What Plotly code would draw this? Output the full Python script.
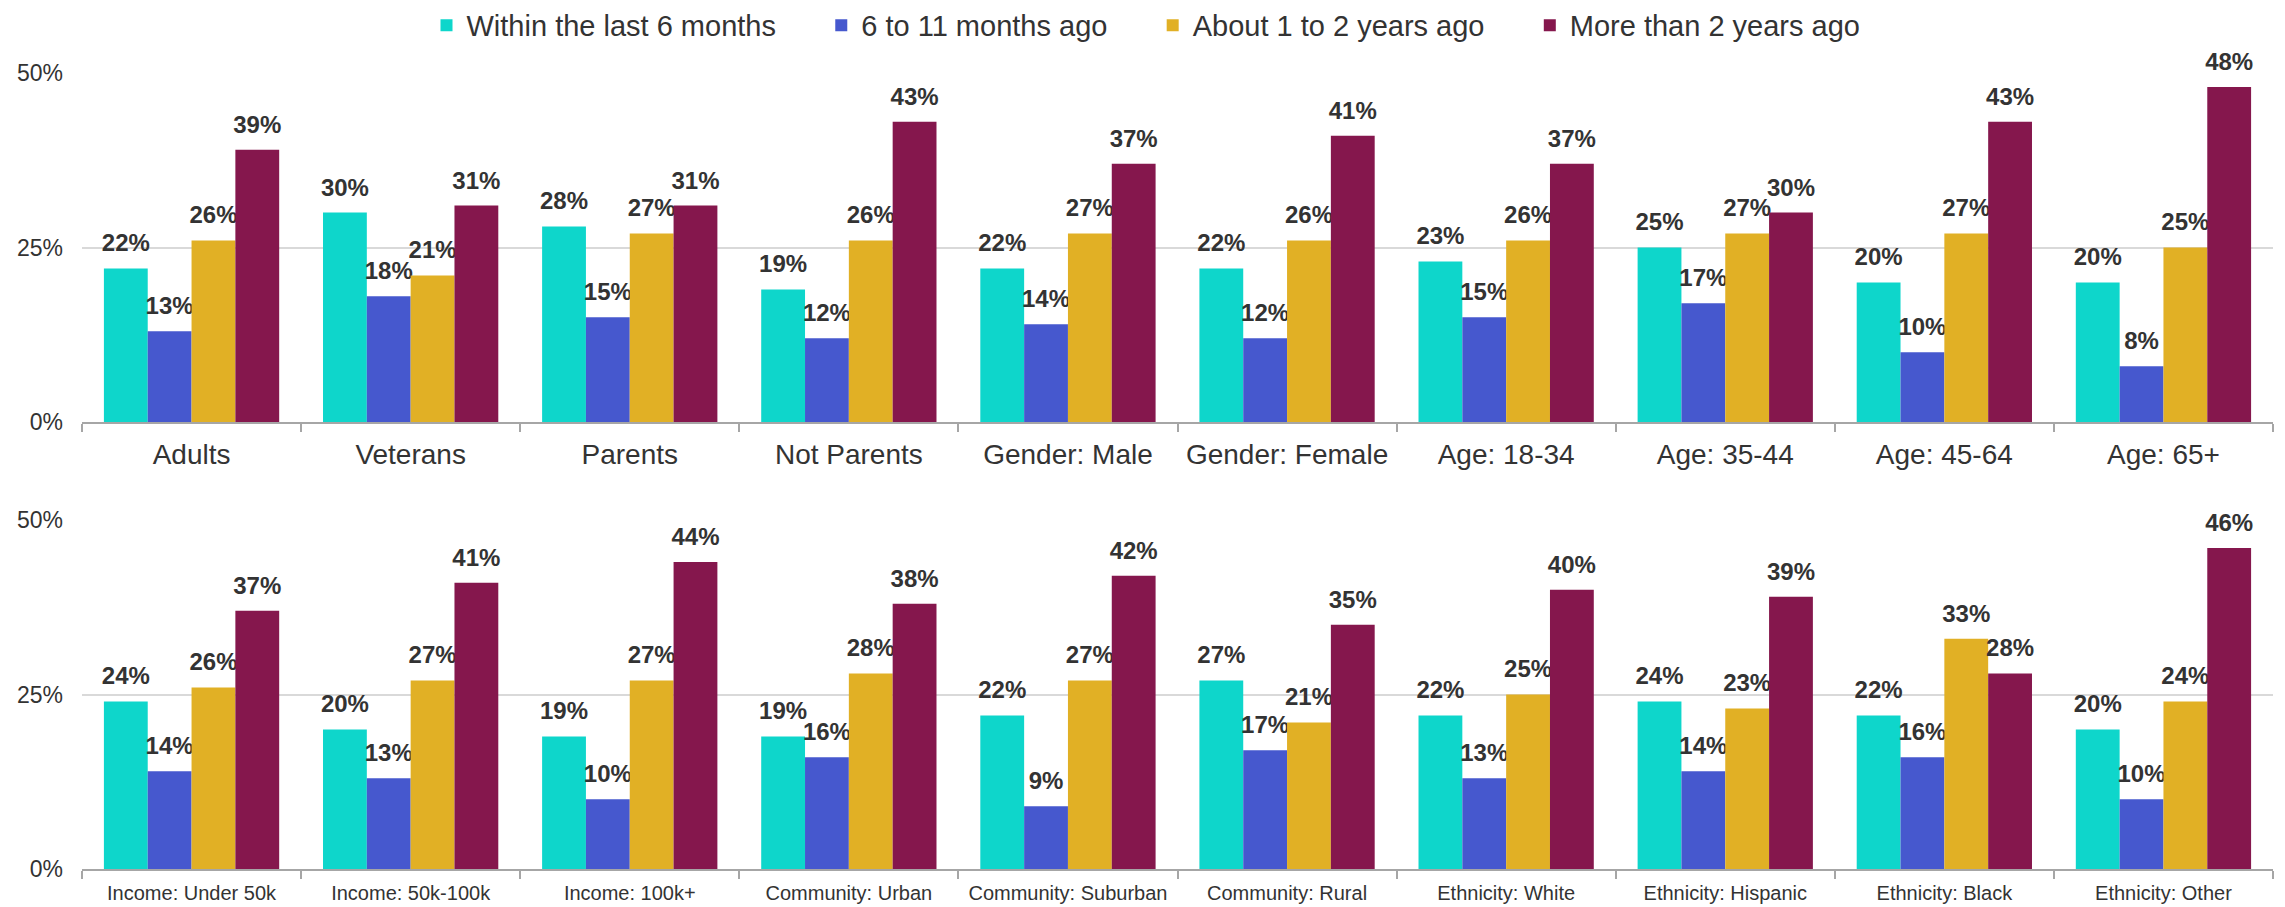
import plotly.graph_objects as go
from plotly.subplots import make_subplots

# categories for each panel
top_groups = ['Adults', 'Veterans', 'Parents', 'Not Parents', 'Gender: Male',
              'Gender: Female', 'Age: 18-34', 'Age: 35-44', 'Age: 45-64', 'Age: 65+']
bottom_groups = ['Income: Under 50k', 'Income: 50k-100k', 'Income: 100k+',
                 'Community: Urban', 'Community: Suburban', 'Community: Rural',
                 'Ethnicity: White', 'Ethnicity: Hispanic', 'Ethnicity: Black',
                 'Ethnicity: Other']

series_names = ['Within the last 6 months', '6 to 11 months ago',
                'About 1 to 2 years ago', 'More than 2 years ago']
colors = ['#0ed6cb', '#4658ce', '#e1b025', '#85174d']

# values in percent, one list per series
top_within6 = [22, 30, 28, 19, 22, 22, 23, 25, 20, 20]
top_6to11 = [13, 18, 15, 12, 14, 12, 15, 17, 10, 8]
top_1to2 = [26, 21, 27, 26, 27, 26, 26, 27, 27, 25]
top_over2 = [39, 31, 31, 43, 37, 41, 37, 30, 43, 48]

bottom_within6 = [24, 20, 19, 19, 22, 27, 22, 24, 22, 20]
bottom_6to11 = [14, 13, 10, 16, 9, 17, 13, 14, 16, 10]
bottom_1to2 = [26, 27, 27, 28, 27, 21, 25, 23, 33, 24]
bottom_over2 = [37, 41, 44, 38, 42, 35, 40, 39, 28, 46]

y_ticks = [0, 25, 50]
y_tick_labels = ['0%', '25%', '50%']

top_series = [top_within6, top_6to11, top_1to2, top_over2]
bottom_series = [bottom_within6, bottom_6to11, bottom_1to2, bottom_over2]

FONT = 'Liberation Sans, Arial'
W, H = 2285, 907
OFF = 8           # page body margin that shifts the figure in the screenshot
LABEL_GAP = 1.3   # extra space (in % units) between a bar and its value label

fig = make_subplots(rows=2, cols=1, vertical_spacing=0.1)

for i, name in enumerate(series_names):
    # pad legend entries so they spread out like the original
    legend_name = name + ('\u00a0' * 5 if i < len(series_names) - 1 else '')
    for row, groups, data in [(1, top_groups, top_series), (2, bottom_groups, bottom_series)]:
        vals = data[i]
        fig.add_trace(go.Bar(
            x=groups, y=vals, name=legend_name,
            marker=dict(color=colors[i], line=dict(width=0)),
            offsetgroup=str(i),
            showlegend=(row == 1),
            legendgroup=name,
        ), row=row, col=1)
        # transparent bar on top of each bar that carries the value label
        fig.add_trace(go.Bar(
            x=groups, y=[LABEL_GAP] * len(vals), base=vals,
            marker=dict(color='rgba(0,0,0,0)', line=dict(width=0)),
            offsetgroup=str(i),
            text=[f'{v}%' for v in vals],
            textposition='outside', constraintext='none',
            textfont=dict(family=FONT, size=24, color='#333333', weight='bold'),
            cliponaxis=False, showlegend=False, hoverinfo='skip',
        ), row=row, col=1)


def ydom(top_px, bottom_px):
    return [1 - (bottom_px - OFF) / H, 1 - (top_px - OFF) / H]


x_dom = [(82 - OFF) / W, (2273 - OFF) / W]

fig.update_xaxes(
    domain=x_dom,
    showline=True, linecolor='#a6a6a6', linewidth=2,
    ticks='outside', tickson='boundaries', ticklen=8, tickcolor='#a6a6a6', tickwidth=2,
    showgrid=False, automargin=False,
    tickfont=dict(family=FONT, color='#333333'),
)
fig.update_xaxes(tickfont_size=28, ticklabelstandoff=6, row=1, col=1)
fig.update_xaxes(tickfont_size=20, ticklabelstandoff=5, row=2, col=1)

fig.update_yaxes(
    range=[0, 50], tickvals=y_ticks, ticktext=y_tick_labels,
    showgrid=True, gridcolor='#d9d9d9', gridwidth=2,
    zeroline=False, showline=False, ticks='', automargin=False,
    ticklabelstandoff=18,
    tickfont=dict(family=FONT, size=23, color='#333333'),
)
fig.update_yaxes(domain=ydom(73, 422), row=1, col=1)
fig.update_yaxes(domain=ydom(520, 869), row=2, col=1)

fig.update_layout(
    width=W, height=H,
    barmode='group', bargap=0.2, bargroupgap=0,
    plot_bgcolor='white', paper_bgcolor='white',
    margin=dict(l=0, r=0, t=0, b=0, autoexpand=False),
    font=dict(family=FONT, color='#333333'),
    legend=dict(orientation='h', x=(1146 - OFF) / W, xanchor='center', y=1.009, yanchor='top',
                font=dict(size=29, color='#333333'), itemwidth=30,
                traceorder='normal'),
)

fig.write_html('out.html')
